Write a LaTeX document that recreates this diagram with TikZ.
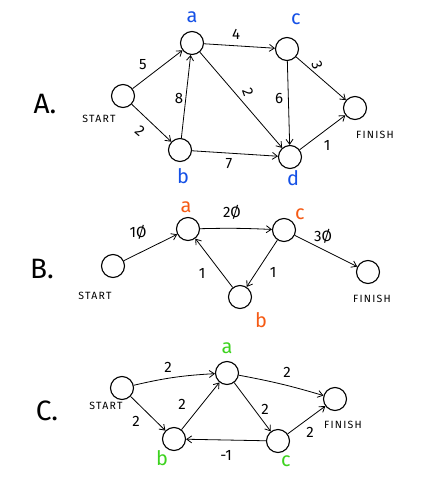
\documentclass[tikz,border=0pt]{standalone}
\usepackage{fontspec}
\setmainfont{Fira Sans}
\usetikzlibrary{arrows.meta}
\definecolor{bl}{RGB}{20,80,230}
\definecolor{orr}{RGB}{245,90,20}
\definecolor{gr}{RGB}{60,210,30}
\tikzset{
  v/.style={circle,draw,line width=1.1pt,minimum size=23pt,inner sep=0pt},
  e/.style={-{Straight Barb[length=5pt,width=7pt]},line width=0.8pt},
  w/.style={font=\fontsize{15}{15}\selectfont,inner sep=1pt},
  lab/.style={font=\fontsize{10.5}{10.5}\selectfont\addfontfeature{LetterSpace=12}},
  big/.style={font=\fontsize{28}{28}\selectfont},
  nm/.style={font=\fontsize{20}{20}\selectfont}
}
\begin{document}
\begin{tikzpicture}[x=1pt,y=-1pt]
\useasboundingbox (0,0) rectangle (425,491);
% ---------- A ----------
\node[big] (LA) at (45,104) {A.};
\node[v] (As) at (123,96) {};
\node[v] (Aa) at (192,43) {};
\node[v] (Ac) at (287,49) {};
\node[v] (Af) at (355,108) {};
\node[v] (Ab) at (180,150) {};
\node[v] (Ad) at (290,157) {};
\node[lab] (AsL) at (99,119) {START};
\node[lab] (AfL) at (375,135) {FINISH};
\node[nm,text=bl] (Aan) at (192,17) {a};
\node[nm,text=bl] (Acn) at (296,19) {c};
\node[nm,text=bl] (Abn) at (183,176) {b};
\node[nm,text=bl] (Adn) at (293,178) {d};
\node[w] (A5) at (143,65) {5};
\node[w,rotate=-40] (A2a) at (140,131) {2};
\node[w] (A8) at (179,98) {8};
\node[w] (A4) at (236,34) {4};
\node[w,rotate=-70] (A2b) at (248,92) {2};
\node[w] (A6) at (279,98) {6};
\node[w,rotate=-70] (A3) at (317,65) {3};
\node[w] (A7) at (229,164) {7};
\node[w] (A1) at (327,145) {1};
\draw[e] (As) -- (Aa);
\draw[e] (As) -- (Ab);
\draw[e] (Ab) -- (Aa);
\draw[e] (Aa) -- (Ac);
\draw[e] (Aa) -- (Ad);
\draw[e] (Ac) -- (Ad);
\draw[e] (Ac) -- (Af);
\draw[e] (Ab) -- (Ad);
\draw[e] (Ad) -- (Af);
% ---------- B ----------
\node[big] (LB) at (42,269) {B.};
\node[v] (Bs) at (113,266) {};
\node[v] (Ba) at (188,229) {};
\node[v] (Bc) at (284,230) {};
\node[v] (Bf) at (368,272) {};
\node[v] (Bb) at (240,297) {};
\node[lab] (BsL) at (95,296) {START};
\node[lab] (BfL) at (372,299) {FINISH};
\node[nm,text=orr] (Ban) at (186,207) {a};
\node[nm,text=orr] (Bcn) at (300,214) {c};
\node[nm,text=orr] (Bbn) at (261,320) {b};
\node[w] (B10) at (138,232) {1\O};
\node[w] (B20) at (232,212) {2\O};
\node[w] (B30) at (323,236) {3\O};
\node[w] (B1a) at (273,272) {1};
\node[w] (B1b) at (202,273) {1};
\draw[e] (Bs) -- (Ba);
\draw[e] (Ba) to[bend left=2] (Bc);
\draw[e] (Bc) -- (Bf);
\draw[e] (Bc) -- (Bb);
\draw[e] (Bb) -- (Ba);
% ---------- C ----------
\node[big] (LC) at (47,411) {C.};
\node[v] (Cs) at (122,388) {};
\node[v] (Ca) at (227,373) {};
\node[v] (Cf) at (335,399) {};
\node[v] (Cb) at (174,439) {};
\node[v] (Cc) at (278,441) {};
\node[lab] (CsL) at (106,406) {START};
\node[lab] (CfL) at (343,425) {FINISH};
\node[nm,text=gr] (Can) at (227,348) {a};
\node[nm,text=gr] (Cbn) at (162,458) {b};
\node[nm,text=gr] (Ccn) at (286,461) {c};
\node[w] (C2a) at (168,367) {2};
\node[w] (C2b) at (136,421) {2};
\node[w] (C2c) at (182,404) {2};
\node[w] (C2d) at (287,372) {2};
\node[w] (C2e) at (265,409) {2};
\node[w] (C2f) at (310,432) {2};
\node[w] (Cm1) at (226,455) {-1};
\draw[e] (Cs) to[bend left=5] (Ca);
\draw[e] (Cs) -- (Cb);
\draw[e] (Cb) -- (Ca);
\draw[e] (Ca) to[bend left=3] (Cf);
\draw[e] (Ca) -- (Cc);
\draw[e] (Cc) -- (Cb);
\draw[e] (Cc) -- (Cf);
\end{tikzpicture}
\end{document}
